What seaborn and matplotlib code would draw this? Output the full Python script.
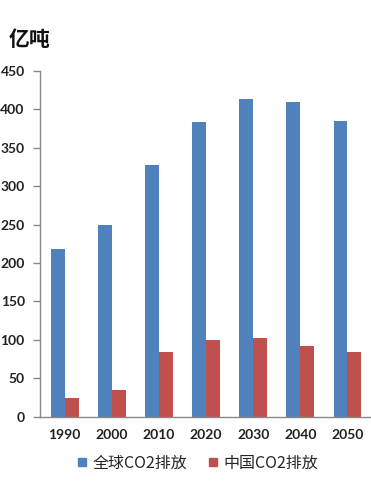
import matplotlib
matplotlib.use("Agg")
import matplotlib.pyplot as plt
import seaborn as sns
import pandas as pd
import numpy as np
from matplotlib.lines import Line2D

years = ["1990", "2000", "2010", "2020", "2030", "2040", "2050"]
global_co2 = [218, 249, 327, 384, 413, 409, 385]
china_co2 = [24, 35, 84, 100, 103, 92, 84]
series_names = ["全球CO2排放", "中国CO2排放"]
y_ticks = [0, 50, 100, 150, 200, 250, 300, 350, 400, 450]
unit_label = "亿吨"

df = pd.DataFrame({
    "year": years * 2,
    "value": global_co2 + china_co2,
    "series": [series_names[0]] * len(years) + [series_names[1]] * len(years),
})

sns.set_theme(style="white")
plt.rcParams["font.family"] = ["Lato", "Noto Sans CJK SC", "DejaVu Sans"]

colors = ["#4F81BD", "#C0504D"]
W, H = 371, 498
fig = plt.figure(figsize=(W / 100, H / 100), dpi=100)
fig.patch.set_facecolor("white")
ax = fig.add_axes([40 / W, (H - 416.7) / H, 331 / W, (416.7 - 71) / H])

sns.barplot(data=df, x="year", y="value", hue="series", palette=colors,
            width=0.587, gap=0, saturation=1, ax=ax, legend=False,
            edgecolor="none", linewidth=0)

ax.set_xlim(-0.524, 6.415)
ax.set_ylim(0, 450)
ax.set_yticks(y_ticks)
ax.set_yticklabels([str(v) for v in y_ticks], fontsize=10, fontweight="bold",
                   color="#222222")
ax.set_xticks(range(len(years)))
ax.set_xticklabels(years, fontsize=10, fontweight="bold", color="#222222")
ax.set_xticks([i + 0.5 for i in range(-1, len(years))], minor=True)
ax.tick_params(axis="x", which="major", length=0, pad=9)
ax.tick_params(axis="x", which="minor", length=5, width=1, color="#888888",
               direction="out")
ax.tick_params(axis="y", which="major", length=5, width=1, color="#888888",
               direction="out", pad=6, left=True)
ax.set_xlabel("")
ax.set_ylabel("")
for s in ["top", "right"]:
    ax.spines[s].set_visible(False)
for s in ["left", "bottom"]:
    ax.spines[s].set_color("#888888")
    ax.spines[s].set_linewidth(1)

fig.text(9 / W, 1 - 39 / H, unit_label, fontsize=15, fontweight="bold",
         family=["Noto Sans CJK SC"], va="center", ha="left", color="#111111")

handles = [Line2D([0], [0], marker="s", linestyle="none", markersize=6,
                  markerfacecolor=c, markeredgecolor=c) for c in colors]
fig.legend(handles, series_names, loc="center", bbox_to_anchor=(198 / W, 1 - 463 / H),
           ncol=2, frameon=False, handlelength=0.6, handletextpad=0.35,
           columnspacing=1.3,
           prop={"family": ["Noto Sans CJK SC"], "size": 11.5})

fig.savefig("out.png", dpi=100, facecolor="white")
